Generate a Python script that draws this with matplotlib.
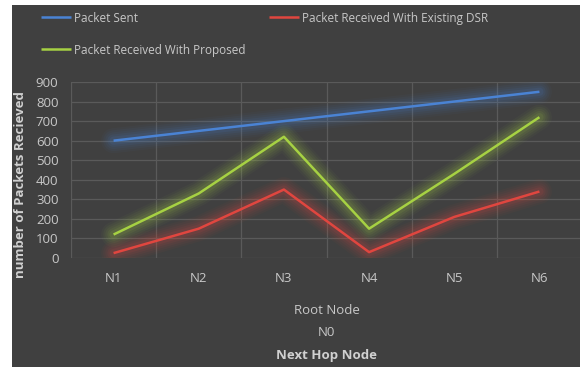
import numpy as np
import matplotlib
matplotlib.use("Agg")
import matplotlib.pyplot as plt
from matplotlib.patches import Rectangle

nodes = ["N1", "N2", "N3", "N4", "N5", "N6"]
packet_sent = [600, 650, 700, 750, 800, 850]
recv_existing = [25, 150, 350, 30, 210, 340]
recv_proposed = [120, 330, 620, 150, 430, 720]

series = [
    ("Packet Sent", packet_sent, "#4a83d4"),
    ("Packet Received With Proposed", recv_proposed, "#a6d143"),
    ("Packet Received With Existing DSR", recv_existing, "#e0463f"),
]

bg = "#404040"
txt = "#c8c8c8"
grid = "#5a5a5a"
plt.rcParams["font.family"] = ["Open Sans", "DejaVu Sans"]

fig = plt.figure(figsize=(5.8, 3.69), dpi=100, facecolor="white")
# dark chart panel with a thin white border on left/top/bottom
fig.patches.append(Rectangle((12 / 580, 2 / 369), 568 / 580, 362 / 369,
                             transform=fig.transFigure, facecolor=bg,
                             edgecolor="none", zorder=-10))

ax = fig.add_axes([71 / 580, 111 / 369, 511 / 580, 176 / 369])
ax.patch.set_alpha(0)

x = np.arange(len(nodes))
handles = []
for label, vals, color in series:
    # soft glow under each line
    for w, a in [(18, 0.04), (15, 0.05), (12, 0.06), (9, 0.08), (6, 0.10)]:
        ax.plot(x, vals, color=color, lw=w, alpha=a, solid_capstyle="round",
                solid_joinstyle="round", zorder=2)
    ln, = ax.plot(x, vals, color=color, lw=1.8, label=label,
                  solid_capstyle="butt", zorder=3)
    handles.append(ln)

ax.set_xlim(-0.5, len(nodes) - 0.5)
ax.set_ylim(0, 900)
ax.set_yticks(range(0, 1000, 100))
ax.set_xticks(x)
ax.set_xticklabels(nodes)
ax.set_xticks(np.arange(-0.5, len(nodes), 1), minor=True)
ax.grid(True, axis="y", color=grid, lw=0.9, zorder=1)
ax.grid(True, axis="x", which="minor", color=grid, lw=0.9, zorder=1)
ax.set_axisbelow(True)
ax.tick_params(axis="both", which="both", length=0, colors=txt, labelsize=9.5)
ax.tick_params(axis="x", pad=10)
ax.tick_params(axis="y", pad=9)
for s in ax.spines.values():
    s.set_visible(False)

ax.set_ylabel("number of Packets Recieved", color="#d0d0d0", fontsize=9.5,
              fontweight="bold")
ax.yaxis.set_label_coords(-0.086, 0.42)

cx = (71 + 511 / 2) / 580
fig.text(cx, 1 - 311 / 369, "Root Node", color=txt, fontsize=9.5, ha="center", va="center")
fig.text(cx, 1 - 332 / 369, "N0", color=txt, fontsize=9.5, ha="center", va="center")
fig.text(cx, 1 - 355 / 369, "Next Hop Node", color="#d0d0d0", fontsize=9.5,
         fontweight="bold", ha="center", va="center")

leg = fig.legend(handles=handles, loc="upper left", ncol=2,
                 bbox_to_anchor=(30 / 580, 1 - 1 / 369), frameon=False,
                 fontsize=8.5, handlelength=2.6, handletextpad=0.25,
                 columnspacing=1.95, labelspacing=1.6, labelcolor=txt)

fig.savefig("out.png", dpi=100, facecolor="white")
